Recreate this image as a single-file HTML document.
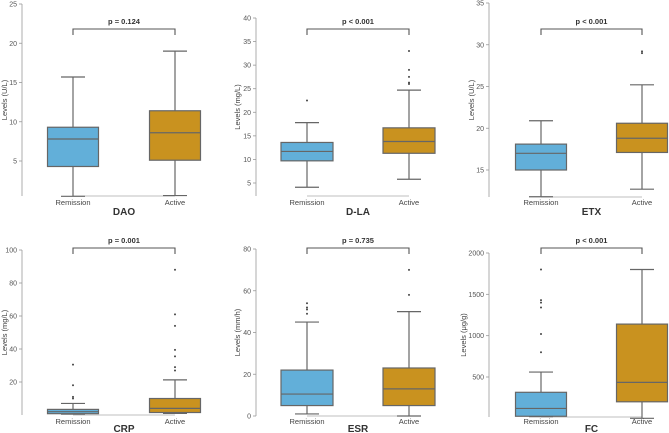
<!DOCTYPE html>
<html><head><meta charset="utf-8"><style>
html,body{margin:0;padding:0;background:#fff}
svg{display:block;font-family:"Liberation Sans",sans-serif}
</style></head><body>
<svg id="chart" width="669" height="433" viewBox="0 0 669 433"></svg>
<script>
// ---- data (five-number summaries: min, q1, median, q3, max) ----
const groups = ["Remission", "Active"];
const daoRemission = [0.5, 4.3, 7.8, 9.3, 15.7];
const daoActive = [0.6, 5.1, 8.6, 11.4, 19.0];
const daoOutliersR = [];
const daoOutliersA = [];
const daoTicks = [5, 10, 15, 20, 25];

const dlaRemission = [4.1, 9.7, 11.7, 13.6, 17.8];
const dlaActive = [5.8, 11.3, 13.8, 16.7, 24.7];
const dlaOutliersR = [22.5];
const dlaOutliersA = [26, 26.3, 27.5, 29, 33];
const dlaTicks = [5, 10, 15, 20, 25, 30, 35, 40];

const etxRemission = [11.8, 15.0, 17.0, 18.1, 20.9];
const etxActive = [12.7, 17.1, 18.8, 20.6, 25.2];
const etxOutliersR = [];
const etxOutliersA = [29, 29.2];
const etxTicks = [15, 20, 25, 30, 35];

const crpRemission = [0.5, 0.8, 2, 3.4, 7];
const crpActive = [1, 1.5, 4, 10, 21.3];
const crpOutliersR = [10, 11, 18, 30.5];
const crpOutliersA = [27, 29, 35.5, 39.5, 54, 61, 88];
const crpTicks = [20, 40, 60, 80, 100];

const esrRemission = [1, 5, 10.5, 22, 45];
const esrActive = [0, 5, 13, 23, 50];
const esrOutliersR = [49, 51, 52, 54];
const esrOutliersA = [58, 70];
const esrTicks = [0, 20, 40, 60, 80];

const fcRemission = [20, 25, 120, 315, 560];
const fcActive = [0, 200, 435, 1140, 1800];
const fcOutliersR = [800, 1020, 1340, 1400, 1430, 1800];
const fcOutliersA = [];
const fcTicks = [500, 1000, 1500, 2000];

const titles = ["DAO", "D-LA", "ETX", "CRP", "ESR", "FC"];
const yLabels = ["Levels (U/L)", "Levels (mg/L)", "Levels (U/L)", "Levels (mg/L)", "Levels (mm/h)", "Levels (\u03bcg/g)"];
const pValues = ["p = 0.124", "p < 0.001", "p < 0.001", "p = 0.001", "p = 0.735", "p < 0.001"];

// ---- layout (geometry, not data) ----
const panels = [
  {ax:22, cx:[73,175], bw:51, t1:[25,4], t0:[5,161], base:196, br:29, labY:205, titY:215, ylOff:15, data:[daoRemission,daoActive], out:[daoOutliersR,daoOutliersA], ticks:daoTicks},
  {ax:256, cx:[307,409], bw:52, t1:[40,18], t0:[5,183], base:196, br:29, labY:205, titY:215, ylOff:16, data:[dlaRemission,dlaActive], out:[dlaOutliersR,dlaOutliersA], ticks:dlaTicks},
  {ax:489, cx:[541,642], bw:51, t1:[35,3], t0:[15,170], base:197, br:29, labY:205, titY:215, ylOff:15, data:[etxRemission,etxActive], out:[etxOutliersR,etxOutliersA], ticks:etxTicks},
  {ax:22, cx:[73,175], bw:51, t1:[100,250], t0:[20,382], base:415, br:248, labY:424, titY:432, ylOff:15, data:[crpRemission,crpActive], out:[crpOutliersR,crpOutliersA], ticks:crpTicks},
  {ax:256, cx:[307,409], bw:52, t1:[80,249], t0:[0,416], base:416, br:248, labY:424, titY:432, ylOff:16, data:[esrRemission,esrActive], out:[esrOutliersR,esrOutliersA], ticks:esrTicks},
  {ax:489, cx:[541,642], bw:51, t1:[2000,253], t0:[500,377], base:417, br:248, labY:424, titY:432, ylOff:23, data:[fcRemission,fcActive], out:[fcOutliersR,fcOutliersA], ticks:fcTicks}
];
const fills = ["#62afd9", "#c9921f"];
const NS = "http://www.w3.org/2000/svg";
const svg = document.getElementById("chart");
function mk(tag, attrs, parent, text) {
  const e = document.createElementNS(NS, tag);
  for (const k in attrs) e.setAttribute(k, attrs[k]);
  if (text !== undefined) e.textContent = text;
  (parent || svg).appendChild(e);
  return e;
}
panels.forEach((p, i) => {
  const g = mk("g", {});
  
  
  const yS = v => p.t0[1] + (v - p.t0[0]) * (p.t1[1] - p.t0[1]) / (p.t1[0] - p.t0[0]);
  const axTop = yS(p.ticks[p.ticks.length - 1]);
  const ax = mk("line", {x1:p.ax, x2:p.ax, y1:axTop, y2:p.base, stroke:"#999", "stroke-width":0.8}, g);
  
  
  p.ticks.forEach(t => {
    const y = yS(t);
    mk("line", {x1:p.ax-3, x2:p.ax, y1:y, y2:y, stroke:"#999", "stroke-width":0.8}, g);
    const tl = mk("text", {x:p.ax-5, y:y+2.5, "font-size":7, fill:"#555", "text-anchor":"end"}, g, String(t));
    
    
  });
  mk("line", {x1:p.cx[0], x2:p.cx[1], y1:p.base, y2:p.base, stroke:"#aaa", "stroke-width":0.8}, g);
  const midY = (axTop + p.base) / 2;
  const yl = mk("text", {x:0, y:0, "font-size":7.5, fill:"#444", "text-anchor":"middle",
    transform:`translate(${p.ax-p.ylOff},${midY}) rotate(-90)`}, g, yLabels[i]);
  
  
  p.data.forEach((d, j) => {
    const c = p.cx[j], h = p.bw / 2;
    const bg = mk("g", {}, g);
    
    
    mk("line", {x1:c, x2:c, y1:yS(d[0]), y2:yS(d[1]), stroke:"#666", "stroke-width":1.2}, bg);
    mk("line", {x1:c, x2:c, y1:yS(d[3]), y2:yS(d[4]), stroke:"#666", "stroke-width":1.2}, bg);
    mk("line", {x1:c-12, x2:c+12, y1:yS(d[0]), y2:yS(d[0]), stroke:"#666", "stroke-width":1.2}, bg);
    mk("line", {x1:c-12, x2:c+12, y1:yS(d[4]), y2:yS(d[4]), stroke:"#666", "stroke-width":1.2}, bg);
    mk("rect", {x:c-h, y:yS(d[3]), width:p.bw, height:yS(d[1])-yS(d[3]), fill:fills[j], stroke:"#666", "stroke-width":1.2}, bg);
    mk("line", {x1:c-h, x2:c+h, y1:yS(d[2]), y2:yS(d[2]), stroke:"#666", "stroke-width":1.2}, bg);
    p.out[j].forEach(o => {
      const dot = mk("circle", {cx:c, cy:yS(o), r:1, fill:"#444"}, bg);
      
      
    });
    const xl = mk("text", {x:c, y:p.labY, "font-size":7.5, fill:"#444", "text-anchor":"middle"}, g, groups[j]);
    
    
  });
  mk("path", {d:`M${p.cx[0]},${p.br+6} V${p.br} H${p.cx[1]} V${p.br+6}`, fill:"none", stroke:"#555", "stroke-width":1.1}, g);
  const pv = mk("text", {x:(p.cx[0]+p.cx[1])/2, y:p.br-5, "font-size":7.5, "font-weight":"bold", fill:"#333", "text-anchor":"middle"}, g, pValues[i]);
  
  
  const tt = mk("text", {x:(p.cx[0]+p.cx[1])/2, y:p.titY, "font-size":10, "font-weight":"bold", fill:"#333", "text-anchor":"middle"}, g, titles[i]);
  
  
});
</script>
</body></html>
